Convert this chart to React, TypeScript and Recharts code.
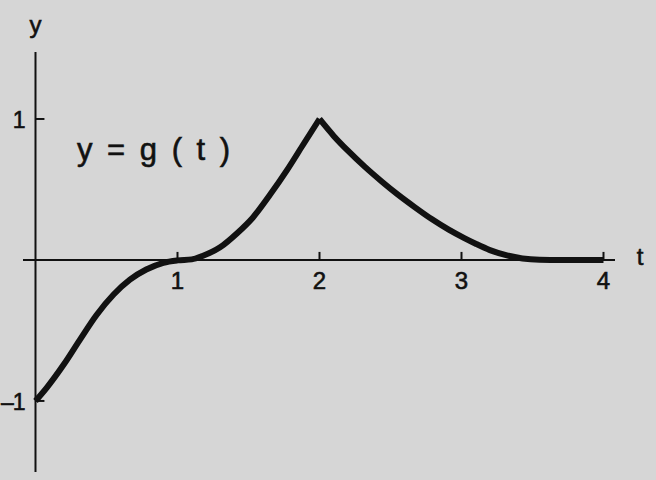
import { LineChart, Line, XAxis, YAxis, ReferenceLine, ReferenceDot } from "recharts";

// left branch, 0 <= t <= 2
const tLeft = [0, 0.08, 0.2, 0.31, 0.43, 0.55, 0.665, 0.78, 0.9, 1.0, 1.1, 1.18, 1.3, 1.42, 1.53, 1.65, 1.77, 1.88, 2];
const gLeft = [-1, -0.905, -0.74, -0.57, -0.39, -0.245, -0.14, -0.068, -0.02, -0.003, 0.004, 0.03, 0.09, 0.19, 0.3, 0.46, 0.635, 0.81, 1];
// right branch, 2 <= t <= 4
const tRight = [2, 2.1, 2.2, 2.32, 2.44, 2.55, 2.67, 2.79, 2.91, 3.02, 3.1, 3.2, 3.32, 3.43, 3.55, 3.7, 4];
const gRight = [1, 0.88, 0.775, 0.66, 0.555, 0.465, 0.375, 0.29, 0.215, 0.155, 0.115, 0.07, 0.032, 0.011, 0.002, 0, 0];

const xTicks = [1, 2, 3, 4];
const yTicks = [1, -1];
const yTickLabels = ["1", "\u20131"];

const leftData = tLeft.map((t, i) => ({ t, g: gLeft[i] }));
const rightData = tRight.map((t, i) => ({ t, g: gRight[i] }));

const INK = "#111";
const FONT = "'Liberation Sans', Arial, sans-serif";

const txt = (x: number, y: number, s: string, anchor: string, size = 24, extra: any = {}) => (
  <text x={x} y={y} textAnchor={anchor} fontSize={size} fontFamily={FONT} fill={INK}
    stroke={INK} strokeWidth={0.6} {...extra}>
    {s}
  </text>
);

export default function App() {
  return (
    <div style={{ position: "fixed", left: 0, top: 0, width: 656, height: 480, background: "#d6d6d6" }}>
      <LineChart width={656} height={480} margin={{ top: 52, right: 41, bottom: 8, left: 23 }}>
        <XAxis dataKey="t" type="number" domain={[-0.088, 4.081]} allowDataOverflow hide />
        <YAxis type="number" domain={[-1.504, 1.475]} allowDataOverflow hide />
        <ReferenceLine y={0} stroke={INK} strokeWidth={2} />
        <ReferenceLine x={0} stroke={INK} strokeWidth={2} />
        {xTicks.map((k) => (
          <ReferenceLine key={"xt" + k} segment={[{ x: k, y: 0 }, { x: k, y: 0.057 }]} stroke={INK} strokeWidth={2} />
        ))}
        {yTicks.map((k) => (
          <ReferenceLine key={"yt" + k} segment={[{ x: 0, y: k }, { x: 0.063, y: k }]} stroke={INK} strokeWidth={2} />
        ))}
        <Line data={leftData} dataKey="g" type="monotone" stroke={INK} strokeWidth={6} dot={false} isAnimationActive={false} />
        <Line data={rightData} dataKey="g" type="monotone" stroke={INK} strokeWidth={6} dot={false} isAnimationActive={false} />
        {xTicks.map((k) => (
          <ReferenceDot key={"xl" + k} x={k} y={0} r={0}
            shape={(p: any) => txt(p.cx, p.cy + 29, String(k), "middle")} />
        ))}
        {yTicks.map((k, i) => (
          <ReferenceDot key={"yl" + k} x={0} y={k} r={0}
            shape={(p: any) => txt(p.cx - 11, p.cy + 9, yTickLabels[i], "end", 23, { letterSpacing: -1 })} />
        ))}
        <ReferenceDot x={0} y={1.475} r={0} shape={(p: any) => txt(p.cx, p.cy - 19, "y", "middle")} />
        <ReferenceDot x={4.081} y={0} r={0} shape={(p: any) => txt(p.cx + 25, p.cy + 5, "t", "middle")} />
        <ReferenceDot x={0.292} y={0.709} r={0}
          shape={(p: any) => txt(p.cx, p.cy, "y = g ( t )", "start", 31, { letterSpacing: 3 })} />
      </LineChart>
    </div>
  );
}
